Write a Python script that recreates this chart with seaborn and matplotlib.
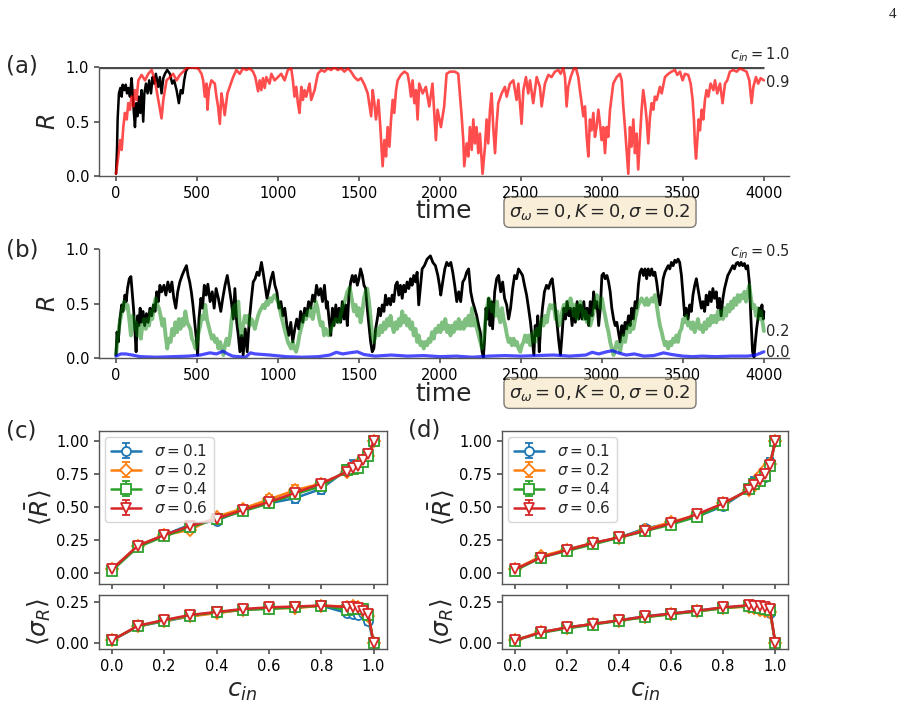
import matplotlib
matplotlib.use("Agg")
import matplotlib.pyplot as plt
import seaborn as sns
from matplotlib.ticker import FormatStrFormatter

# ---------------- data ----------------
# panel (a): c_in = 1.0 (black) and c_in = 0.9 (red); (time, R) samples
# (c_in = 1.0 stays locked at R = 1 from t ~ 456 to 4000; drawn as the level line below)
a_black = [(0,.02),(6,.24),(10,.52),(18,.76),(27,.81),(35,.73),(41,.84),(51,.79),(60,.84),(68,.76),
           (76,.81),(86,.73),(96,.90),(103,.76),(109,.61),(117,.45),(125,.67),(133,.55),(142,.73),(150,.58),
           (158,.79),(168,.50),(175,.76),(185,.85),(195,.76),(205,.88),(216,.76),(226,.91),(236,.85),(246,.94),
           (261,.82),(271,.91),(281,.76),(292,.90),(302,.94),(316,.975),(333,.94),(347,.85),(359,.88),(374,.79),
           (388,.67),(400,.79),(411,.76),(421,.88),(431,.96),(441,.99),(456,1.0)]
a_locked_level = 1.0
a_locked_end = 4000

a_red = [(0,.02),(14,.18),(25,.33),(35,.24),(45,.45),(55,.58),(66,.52),(76,.67),(86,.61),(96,.73),
         (107,.64),(117,.79),(127,.70),(138,.88),(158,.93),(179,.88),(199,.94),(220,.975),(240,.88),(261,.70),
         (281,.53),(292,.70),(312,.88),(333,.91),(353,.94),(374,.88),(394,.93),(415,.96),(435,.99),(466,1.0),
         (507,.99),(528,.94),(538,.88),(548,.73),(558,.85),(565,.61),(573,.79),(589,.88),(610,.85),(620,.73),
         (630,.64),(641,.48),(651,.76),(661,.67),(671,.56),(688,.76),(702,.82),(723,.91),(743,.975),(764,.94),
         (784,.99),(805,.975),(825,.99),(846,.96),(860,.91),(877,.78),(887,.88),(897,.79),(907,.90),(918,.81),
         (928,.91),(948,.85),(959,.94),(979,.88),(1000,.91),(1020,.94),(1041,.88),(1061,.975),(1082,.99),(1092,.88),
         (1102,.73),(1113,.82),(1123,.67),(1133,.58),(1144,.82),(1154,.70),(1164,.79),(1174,.73),(1195,.85),(1205,.70),
         (1226,.79),(1246,.94),(1267,.975),(1287,.96),(1308,.99),(1328,.975),(1349,1.0),(1369,.975),(1390,.99),(1410,.96),
         (1431,.99),(1451,.96),(1472,.91),(1493,.88),(1513,.90),(1534,.84),(1554,.76),(1575,.55),(1585,.79),(1595,.67),
         (1605,.52),(1620,.70),(1632,.45),(1640,.24),(1646,.09),(1657,.33),(1667,.18),(1677,.45),(1688,.27),(1698,.52),
         (1708,.70),(1718,.58),(1729,.79),(1739,.88),(1759,.93),(1780,.96),(1800,.94),(1811,.85),(1821,.73),(1831,.88),
         (1842,.67),(1852,.79),(1862,.52),(1872,.85),(1893,.76),(1913,.82),(1934,.64),(1954,.85),(1965,.58),(1975,.33),
         (1985,.61),(2006,.45),(2026,.64),(2041,.94),(2062,.96),(2093,.96),(2113,.94),(2123,.76),(2134,.55),(2144,.33),
         (2150,.09),(2165,.30),(2175,.18),(2185,.45),(2196,.24),(2206,.52),(2216,.30),(2226,.45),(2237,.21),(2247,.39),
         (2257,.15),(2263,.02),(2278,.27),(2288,.52),(2298,.30),(2309,.61),(2319,.76),(2329,.45),(2340,.21),(2350,.48),
         (2360,.67),(2381,.76),(2401,.82),(2412,.73),(2432,.85),(2453,.88),(2463,.79),(2473,.70),(2484,.85),(2504,.48),
         (2515,.79),(2531,.91),(2545,.76),(2556,.88),(2576,.67),(2597,.91),(2617,.82),(2628,.64),(2648,.85),(2669,.93),
         (2689,.91),(2710,.96),(2731,.975),(2745,.94),(2761,1.0),(2772,.91),(2782,.64),(2792,.82),(2807,.91),(2823,.975),
         (2838,1.0),(2854,.91),(2864,.79),(2875,.67),(2885,.55),(2895,.64),(2906,.36),(2916,.18),(2926,.52),(2936,.42),
         (2947,.58),(2957,.36),(2967,.45),(2978,.61),(2988,.48),(2998,.33),(3008,.45),(3019,.21),(3029,.45),(3039,.36),
         (3050,.61),(3060,.73),(3070,.85),(3091,.91),(3111,.94),(3122,.88),(3132,.64),(3142,.45),(3152,.24),(3163,.02),
         (3173,.45),(3183,.27),(3194,.52),(3204,.21),(3214,.39),(3224,.06),(3235,.36),(3245,.61),(3255,.79),(3266,.67),
         (3276,.52),(3286,.30),(3297,.55),(3307,.67),(3317,.61),(3327,.73),(3338,.70),(3358,.82),(3369,.76),(3389,.91),
         (3410,.94),(3430,.96),(3451,.975),(3465,.93),(3482,.96),(3498,.88),(3513,.94),(3533,.93),(3548,.85),(3560,.70),
         (3568,.52),(3574,.30),(3581,.16),(3589,.33),(3597,.52),(3605,.42),(3616,.61),(3626,.52),(3636,.70),(3646,.79),
         (3657,.73),(3671,.85),(3688,.79),(3698,.88),(3712,.76),(3729,.85),(3745,.67),(3760,.85),(3774,.88),(3790,.96),
         (3811,.975),(3832,.96),(3852,.99),(3873,.975),(3893,.96),(3910,.88),(3924,.67),(3935,.82),(3951,.91),(3965,.85),
         (3980,.90),(4000,.88)]

# panel (b): c_in = 0.5 (black), 0.2 (green), 0.0 (blue)
b_black = [(0,.03),(6,.24),(14,.15),(24,.36),(35,.49),(43,.43),(55,.58),(63,.52),(71,.64),(82,.73),
           (92,.75),(100,.61),(108,.46),(116,.27),(124,.06),(133,.39),(141,.30),(149,.46),(157,.33),(167,.43),
           (177,.30),(188,.41),(198,.33),(210,.46),(220,.39),(231,.49),(241,.43),(251,.61),(261,.52),(271,.67),
           (282,.61),(296,.67),(308,.58),(320,.70),(333,.61),(345,.70),(357,.55),(369,.46),(381,.61),(394,.70),
           (408,.76),(422,.81),(435,.85),(445,.76),(455,.70),(465,.61),(475,.49),(486,.33),(496,.18),(504,.03),
           (512,.36),(524,.55),(534,.46),(545,.67),(557,.58),(567,.68),(581,.52),(594,.61),(606,.46),(618,.64),
           (632,.55),(647,.43),(659,.55),(673,.67),(687,.76),(700,.64),(712,.52),(724,.36),(734,.64),(745,.33),
           (755,.21),(765,.06),(775,.21),(785,.03),(798,.27),(810,.06),(822,.33),(834,.52),(847,.70),(859,.73),
           (871,.79),(883,.76),(898,.88),(908,.79),(920,.67),(932,.55),(945,.64),(957,.73),(969,.79),(981,.67),
           (993,.61),(1006,.46),(1018,.52),(1030,.39),(1042,.46),(1055,.30),(1067,.21),(1079,.33),(1091,.15),(1104,.27),
           (1116,.36),(1128,.27),(1140,.43),(1153,.33),(1165,.46),(1177,.39),(1189,.52),(1202,.46),(1214,.58),(1226,.52),
           (1238,.67),(1251,.58),(1263,.64),(1275,.52),(1287,.67),(1299,.46),
           (1305,.52),(1315,.36),(1326,.21),(1336,.46),(1346,.30),(1357,.49),(1367,.33),(1377,.46),(1387,.33),(1397,.52),
           (1408,.36),(1418,.49),(1428,.30),(1438,.58),(1449,.70),(1459,.76),(1469,.70),(1479,.76),(1490,.67),(1500,.73),
           (1510,.82),(1521,.76),(1531,.67),(1541,.64),(1551,.46),(1562,.30),(1572,.15),(1582,.06),(1592,.09),(1603,.27),
           (1613,.36),(1623,.46),(1633,.39),(1644,.49),(1654,.43),(1664,.58),(1674,.49),(1685,.55),(1695,.49),(1705,.58),
           (1715,.52),(1726,.67),(1736,.70),(1746,.58),(1756,.67),(1767,.55),(1777,.67),(1787,.61),(1797,.70),(1808,.64),
           (1818,.73),(1828,.67),(1838,.76),(1849,.70),(1859,.79),(1869,.49),(1890,.82),(1904,.85),(1921,.91),(1941,.94),
           (1956,.88),(1972,.85),(1987,.76),(1997,.67),(2005,.58),(2017,.70),(2030,.82),(2042,.88),(2054,.85),(2067,.88),
           (2079,.79),(2091,.67),(2104,.52),(2116,.61),(2128,.52),(2141,.70),(2153,.73),(2165,.79),(2177,.82),(2190,.61),
           (2202,.52),(2214,.46),(2227,.39),(2239,.30),(2249,.24),(2260,.06),(2268,.01),(2276,.18),(2284,.46),(2293,.36),
           (2301,.55),(2309,.30),(2317,.52),(2325,.27),(2338,.61),(2350,.73),(2362,.76),(2375,.61),(2387,.70),(2399,.55),
           (2412,.49),(2424,.36),(2436,.46),(2449,.64),(2461,.76),(2473,.73),(2485,.82),(2498,.79),(2510,.76),(2522,.67),
           (2535,.58),(2547,.46),(2559,.33),(2572,.15),(2580,.03),(2588,.30),(2596,.21),(2604,.39),(2613,.06),(2621,.27),
           (2633,.46),(2645,.61),(2658,.67),(2670,.64),(2682,.70),
           (2693,.73),(2703,.61),(2714,.43),(2724,.30),(2734,.15),(2744,.03),(2755,.24),(2765,.46),(2775,.36),(2785,.52),
           (2796,.39),(2806,.46),(2816,.30),(2826,.46),(2836,.33),(2847,.52),(2857,.36),(2867,.49),(2877,.36),(2888,.52),
           (2898,.36),(2908,.46),(2918,.30),(2928,.52),(2939,.39),(2949,.61),(2959,.46),(2969,.52),(2980,.30),(2990,.46),
           (3000,.76),(3010,.78),(3020,.73),(3031,.76),(3041,.70),(3051,.61),(3061,.46),(3072,.36),(3082,.30),(3092,.33),
           (3102,.24),(3112,.15),(3123,.30),(3133,.21),(3143,.33),(3153,.27),(3164,.39),(3174,.30),(3184,.46),(3194,.36),
           (3205,.52),(3215,.46),(3225,.67),(3235,.79),(3245,.82),(3256,.76),(3266,.82),(3276,.73),(3286,.82),(3297,.76),
           (3307,.82),(3317,.76),(3327,.79),(3338,.70),(3348,.58),(3358,.49),(3369,.61),(3378,.73),(3389,.79),(3399,.82),
           (3409,.85),(3419,.82),(3429,.88),(3440,.85),(3450,.90),(3460,.88),(3470,.91),(3480,.88),(3491,.76),(3501,.58),
           (3511,.39),(3521,.46),(3532,.36),(3542,.49),(3552,.43),(3562,.58),(3573,.67),(3583,.73),(3593,.64),(3603,.55),
           (3614,.46),(3624,.52),(3634,.43),(3644,.58),(3654,.49),(3665,.61),(3675,.52),(3685,.64),(3695,.55),(3706,.61),
           (3716,.46),(3726,.55),(3736,.39),(3747,.55),(3757,.64),(3767,.70),(3777,.76),(3788,.79),(3798,.82),(3808,.85),
           (3818,.82),(3829,.87),(3839,.88),(3849,.85),(3859,.88),(3869,.85),(3880,.87),(3890,.82),(3900,.85),(3910,.70),
           (3920,.36),(3930,.06),(3939,.01),(3947,.15),(3955,.27),(3963,.36),(3971,.46),(3980,.39),(3988,.49),(3996,.36),
           (4000,.43)]

b_green = [(0,.03),(10,.18),(20,.30),(31,.39),(41,.46),(51,.52),(61,.46),(71,.49),(82,.36),(92,.21),
           (102,.39),(112,.27),(122,.33),(133,.21),(143,.30),(153,.18),(163,.30),(173,.36),(184,.27),(194,.36),
           (204,.30),(214,.43),(224,.36),(235,.49),(245,.55),(255,.49),(265,.46),(275,.39),(286,.30),(296,.36),
           (306,.21),(316,.09),(326,.18),(337,.15),(347,.27),(357,.21),(367,.33),(377,.24),(388,.36),(398,.27),
           (408,.36),(418,.30),(428,.43),(439,.33),(449,.30),(459,.27),(469,.18),(479,.15),(490,.09),(500,.15),
           (510,.24),(520,.30),(530,.39),(541,.36),(551,.49),(561,.36),(571,.30),(581,.24),(592,.18),(602,.21),
           (612,.15),(622,.18),(632,.09),(643,.15),(653,.09),(663,.03),(673,.12),(683,.18),(694,.12),(704,.21),
           (714,.36),(724,.46),(734,.49),(745,.39),(755,.52),(765,.30),(775,.21),(785,.30),(796,.39),(806,.33),
           (816,.39),(826,.30),(836,.36),(847,.33),(857,.27),(867,.33),(877,.39),(887,.43),(898,.46),(908,.49),
           (918,.46),(928,.52),(938,.49),(949,.55),(959,.52),(969,.56),(979,.58),(989,.55),(1000,.52),(1010,.46),
           (1020,.39),(1030,.33),(1040,.27),(1051,.21),(1061,.15),(1071,.12),(1081,.09),(1091,.15),(1102,.09),(1112,.06),
           (1122,.12),(1132,.21),(1142,.27),(1153,.33),(1163,.39),(1173,.36),(1183,.43),(1193,.39),(1204,.46),(1214,.36),
           (1224,.43),(1234,.52),(1244,.46),(1255,.36),(1265,.30),(1275,.33),(1285,.21),(1295,.27),(1312,.21),
           (1336,.30),(1357,.36),(1377,.33),(1397,.46),(1418,.55),(1428,.61),(1443,.65),(1455,.55),(1469,.43),(1479,.49),
           (1490,.39),(1500,.46),(1510,.33),(1521,.43),(1531,.55),(1541,.61),(1551,.64),(1562,.52),(1572,.36),(1582,.21),
           (1592,.15),(1603,.21),(1613,.27),(1623,.21),(1633,.30),(1644,.24),(1654,.33),(1664,.27),(1674,.36),(1685,.30),
           (1695,.39),(1705,.30),(1715,.24),(1726,.33),(1736,.27),(1746,.36),(1756,.30),(1767,.43),(1777,.33),(1787,.39),
           (1797,.30),(1808,.36),(1818,.27),(1828,.33),(1838,.21),(1849,.27),(1859,.15),(1869,.21),(1880,.12),(1890,.15),
           (1900,.09),(1910,.15),(1921,.12),(1931,.18),(1941,.15),(1951,.24),(1962,.18),(1972,.27),(1982,.24),(1992,.30),
           (2003,.24),(2013,.33),(2023,.27),(2033,.36),(2044,.24),(2054,.30),(2065,.21),(2075,.30),(2085,.24),(2095,.33),
           (2106,.27),(2116,.36),(2126,.27),(2136,.33),(2147,.27),(2157,.36),(2167,.30),(2177,.39),(2188,.30),(2198,.46),
           (2208,.30),(2218,.36),(2229,.27),(2239,.21),(2249,.15),(2260,.09),(2270,.18),(2280,.33),(2290,.46),(2301,.55),
           (2311,.52),(2321,.43),(2331,.49),(2342,.39),(2352,.52),(2362,.39),(2373,.33),(2383,.46),(2393,.36),(2403,.30),
           (2414,.21),(2424,.15),(2434,.18),(2444,.12),(2455,.18),(2465,.12),(2475,.15),(2485,.09),(2496,.06),(2506,.12),
           (2516,.15),(2526,.21),(2537,.15),(2547,.21),(2557,.12),(2567,.18),(2578,.24),(2588,.15),(2598,.27),(2608,.21),
           (2619,.30),(2629,.36),(2639,.30),(2649,.39),(2660,.33),(2670,.43),(2680,.49),
           (2693,.46),(2703,.49),(2714,.36),(2724,.43),(2734,.30),(2744,.33),(2755,.43),(2765,.49),(2775,.43),(2785,.52),
           (2796,.46),(2806,.55),(2816,.49),(2826,.39),(2836,.49),(2847,.36),(2857,.46),(2867,.52),(2877,.46),(2888,.36),
           (2898,.43),(2908,.33),(2918,.39),(2928,.30),(2939,.36),(2949,.43),(2959,.52),(2969,.58),(2980,.52),(2990,.46),
           (3000,.55),(3010,.46),(3020,.39),(3031,.30),(3041,.24),(3051,.15),(3061,.09),(3072,.03),(3082,.09),(3092,.15),
           (3102,.12),(3112,.06),(3123,.15),(3133,.21),(3143,.15),(3153,.24),(3164,.30),(3174,.24),(3184,.33),(3194,.27),
           (3205,.36),(3215,.43),(3225,.49),(3235,.52),(3245,.55),(3256,.52),(3266,.49),(3276,.55),(3286,.49),(3297,.52),
           (3307,.55),(3317,.52),(3327,.58),(3338,.49),(3348,.39),(3358,.30),(3369,.24),(3378,.18),(3389,.12),(3399,.15),
           (3409,.09),(3419,.15),(3429,.12),(3440,.18),(3450,.15),(3460,.21),(3470,.15),(3480,.24),(3491,.27),(3501,.36),
           (3511,.33),(3521,.39),(3532,.30),(3542,.33),(3552,.27),(3562,.33),(3573,.24),(3583,.30),(3593,.36),(3603,.27),
           (3614,.30),(3624,.24),(3634,.33),(3644,.27),(3654,.36),(3665,.30),(3675,.39),(3685,.33),(3695,.39),(3706,.33),
           (3716,.43),(3726,.36),(3736,.43),(3747,.36),(3757,.46),(3767,.39),(3777,.49),(3788,.43),(3798,.52),(3808,.46),
           (3818,.55),(3829,.49),(3839,.58),(3849,.52),(3859,.58),(3869,.55),(3880,.61),(3890,.52),(3900,.61),(3910,.67),
           (3920,.55),(3930,.46),(3940,.49),(3951,.39),(3961,.46),(3971,.36),(3981,.43),(3992,.33),(4000,.25)]

b_blue = [(0,.02),(30,.04),(60,.04),(100,.03),(150,.015),(250,.01),(350,.015),(450,.02),(520,.03),(580,.05),
          (620,.04),(660,.065),(690,.04),(720,.02),(800,.01),(830,.05),(860,.04),(950,.03),(1050,.015),(1150,.01),
          (1250,.015),(1320,.03),(1360,.055),(1400,.04),(1440,.05),(1490,.06),(1530,.035),(1600,.02),(1700,.03),(1800,.02),
          (1900,.025),(2000,.015),(2100,.02),(2200,.01),(2300,.02),(2400,.025),(2500,.02),(2600,.025),(2700,.03),(2800,.02),
          (2900,.03),(2940,.055),(2980,.04),(3030,.06),(3065,.07),(3100,.05),(3150,.03),(3200,.04),(3260,.02),(3320,.025),
          (3380,.05),(3430,.035),(3500,.02),(3560,.015),(3620,.02),(3700,.015),(3800,.02),(3900,.02),(3950,.03),(4000,.06)]

# panels (c),(d)
c_in = [0.0, 0.1, 0.2, 0.3, 0.4, 0.5, 0.6, 0.7, 0.8, 0.9, 0.92, 0.94, 0.96, 0.98, 1.0]
sigmas = ["0.1", "0.2", "0.4", "0.6"]

c_R = {
    "0.1": [0.03, 0.21, 0.29, 0.37, 0.40, 0.48, 0.53, 0.57, 0.64, 0.79, 0.82, 0.83, 0.86, 0.90, 1.0],
    "0.2": [0.03, 0.21, 0.29, 0.33, 0.43, 0.49, 0.56, 0.63, 0.68, 0.77, 0.80, 0.83, 0.86, 0.89, 1.0],
    "0.4": [0.02, 0.20, 0.28, 0.35, 0.41, 0.47, 0.53, 0.60, 0.66, 0.78, 0.79, 0.80, 0.84, 0.89, 1.0],
    "0.6": [0.03, 0.21, 0.29, 0.36, 0.415, 0.48, 0.54, 0.61, 0.68, 0.77, 0.80, 0.815, 0.86, 0.90, 1.0],
}
c_R_err = {
    "0.1": [0.01, 0.02, 0.02, 0.03, 0.02, 0.02, 0.02, 0.04, 0.04, 0.03, 0.04, 0.03, 0.03, 0.04, 0.0],
    "0.2": [0.01, 0.02, 0.02, 0.02, 0.02, 0.02, 0.03, 0.04, 0.02, 0.02, 0.02, 0.02, 0.02, 0.02, 0.0],
    "0.4": [0.01, 0.02, 0.02, 0.02, 0.02, 0.02, 0.02, 0.02, 0.03, 0.03, 0.03, 0.03, 0.03, 0.02, 0.0],
    "0.6": [0.01, 0.01, 0.01, 0.02, 0.02, 0.02, 0.02, 0.02, 0.02, 0.02, 0.02, 0.02, 0.02, 0.02, 0.0],
}
c_S = {
    "0.1": [0.014, 0.10, 0.13, 0.16, 0.185, 0.20, 0.21, 0.215, 0.225, 0.18, 0.175, 0.17, 0.18, 0.13, 0.0],
    "0.2": [0.015, 0.10, 0.135, 0.16, 0.18, 0.20, 0.21, 0.21, 0.225, 0.22, 0.225, 0.215, 0.20, 0.16, 0.0],
    "0.4": [0.014, 0.10, 0.135, 0.165, 0.185, 0.20, 0.205, 0.215, 0.225, 0.20, 0.205, 0.205, 0.205, 0.17, 0.0],
    "0.6": [0.014, 0.104, 0.138, 0.169, 0.187, 0.205, 0.215, 0.22, 0.226, 0.217, 0.215, 0.21, 0.193, 0.173, 0.0],
}
c_S_err = {
    "0.1": [0.005, 0.01, 0.01, 0.01, 0.01, 0.01, 0.01, 0.01, 0.01, 0.02, 0.02, 0.02, 0.02, 0.02, 0.0],
    "0.2": [0.005, 0.01, 0.01, 0.01, 0.01, 0.01, 0.01, 0.01, 0.01, 0.01, 0.01, 0.01, 0.01, 0.02, 0.0],
    "0.4": [0.005, 0.01, 0.01, 0.01, 0.01, 0.01, 0.01, 0.01, 0.01, 0.01, 0.01, 0.01, 0.01, 0.01, 0.0],
    "0.6": [0.005, 0.01, 0.01, 0.01, 0.01, 0.01, 0.01, 0.01, 0.01, 0.01, 0.01, 0.01, 0.01, 0.01, 0.0],
}
d_R = {
    "0.1": [0.03, 0.12, 0.18, 0.23, 0.27, 0.34, 0.38, 0.43, 0.51, 0.64, 0.70, 0.71, 0.73, 0.84, 1.0],
    "0.2": [0.03, 0.13, 0.18, 0.23, 0.27, 0.33, 0.39, 0.44, 0.53, 0.63, 0.66, 0.74, 0.78, 0.83, 1.0],
    "0.4": [0.02, 0.12, 0.17, 0.22, 0.27, 0.32, 0.37, 0.43, 0.52, 0.64, 0.68, 0.70, 0.74, 0.81, 1.0],
    "0.6": [0.03, 0.12, 0.177, 0.23, 0.273, 0.324, 0.38, 0.448, 0.53, 0.633, 0.67, 0.71, 0.75, 0.82, 1.0],
}
d_R_err = {
    "0.1": [0.01, 0.01, 0.01, 0.01, 0.01, 0.02, 0.01, 0.02, 0.02, 0.02, 0.03, 0.03, 0.03, 0.03, 0.0],
    "0.2": [0.01, 0.02, 0.01, 0.01, 0.01, 0.01, 0.02, 0.01, 0.01, 0.02, 0.02, 0.02, 0.02, 0.02, 0.0],
    "0.4": [0.01, 0.01, 0.01, 0.01, 0.01, 0.01, 0.01, 0.01, 0.02, 0.02, 0.02, 0.02, 0.02, 0.02, 0.0],
    "0.6": [0.01, 0.01, 0.01, 0.01, 0.01, 0.01, 0.01, 0.01, 0.01, 0.02, 0.02, 0.02, 0.02, 0.02, 0.0],
}
d_S = {
    "0.1": [0.014, 0.063, 0.092, 0.114, 0.136, 0.16, 0.177, 0.195, 0.213, 0.225, 0.215, 0.22, 0.21, 0.18, 0.0],
    "0.2": [0.015, 0.065, 0.09, 0.115, 0.135, 0.155, 0.175, 0.19, 0.21, 0.22, 0.21, 0.20, 0.19, 0.185, 0.0],
    "0.4": [0.012, 0.06, 0.087, 0.11, 0.133, 0.155, 0.173, 0.19, 0.21, 0.225, 0.215, 0.21, 0.205, 0.20, 0.0],
    "0.6": [0.014, 0.063, 0.093, 0.114, 0.136, 0.16, 0.177, 0.195, 0.215, 0.228, 0.224, 0.222, 0.22, 0.205, 0.0],
}
d_S_err = {k: [0.005] + [0.01] * 13 + [0.0] for k in sigmas}

# ---------------- style ----------------
sns.set_theme(style="ticks")
plt.rcParams["font.family"] = ["DejaVu Sans"]
plt.rcParams["mathtext.fontset"] = "dejavusans"
EDGE = "#555555"
plt.rcParams.update({
    "axes.edgecolor": EDGE, "axes.linewidth": 1.0,
    "xtick.color": EDGE, "ytick.color": EDGE,
    "xtick.labelcolor": "black", "ytick.labelcolor": "black",
    "xtick.labelsize": 10.5, "ytick.labelsize": 10.5,
    "xtick.major.size": 3.5, "ytick.major.size": 3.5,
})

W, H = 912, 724
fig = plt.figure(figsize=(W / 100, H / 100), dpi=100)


def box(l, t, r, b):
    return [l / W, 1 - b / H, (r - l) / W, (b - t) / H]


ax_a = fig.add_axes(box(99, 67.3, 789, 176))
ax_b = fig.add_axes(box(99, 249.3, 789, 358.3))
ax_c1 = fig.add_axes(box(98.7, 430.7, 386.7, 584))
ax_c2 = fig.add_axes(box(98.7, 595, 386.7, 649))
ax_d1 = fig.add_axes(box(501.7, 430.7, 788.3, 584))
ax_d2 = fig.add_axes(box(501.7, 595, 788.3, 649))


def series(ax, pairs, **kw):
    t = [p[0] for p in pairs]
    r = [p[1] for p in pairs]
    sns.lineplot(x=t, y=r, ax=ax, estimator=None, sort=False, **kw)


# ---- (a)
ax_a.hlines(a_locked_level, -105, a_locked_end, color="#4a4a4a", lw=2.4)
series(ax_a, a_black, color="black", lw=1.8)
series(ax_a, a_red, color="red", alpha=0.7, lw=1.9)
# ---- (b)
series(ax_b, b_black, color="black", lw=2.0)
series(ax_b, b_green, color="green", alpha=0.5, lw=2.8)
series(ax_b, b_blue, color="blue", alpha=0.7, lw=2.3)

for ax in (ax_a, ax_b):
    ax.set_xlim(-105, 4155)
    ax.set_ylim(0, 1.0)
    ax.set_xticks(range(0, 4001, 500))
    ax.set_yticks([0, 0.5, 1.0])
    ax.yaxis.set_major_formatter(FormatStrFormatter("%.1f"))
    sns.despine(ax=ax)
    ax.set_ylabel("$R$", fontsize=17)
    ax.yaxis.set_label_coords(-0.057, 0.5)
    ax.set_xlabel("time", fontsize=18)
    ax.xaxis.set_label_coords(0.5, -0.215)

ax_a.text(3790, 1.03, "$c_{in} = 1.0$", fontsize=10.5, ha="left", va="bottom", clip_on=False)
ax_a.text(4012, 0.86, "0.9", fontsize=10.5, ha="left", va="center", clip_on=False)
ax_b.text(3790, 0.98, "$c_{in} = 0.5$", fontsize=10.5, ha="left", va="center", clip_on=False)
ax_b.text(4012, 0.25, "0.2", fontsize=10.5, ha="left", va="center", clip_on=False)
ax_b.text(4012, 0.05, "0.0", fontsize=10.5, ha="left", va="center", clip_on=False)

bbox = dict(boxstyle="round", facecolor="wheat", edgecolor="black", alpha=0.5)
params = r"$\sigma_\omega = 0, K = 0, \sigma = 0.2$"
fig.text(600 / W, 1 - 212 / H, params, fontsize=13, ha="center", va="center", bbox=bbox)
fig.text(600 / W, 1 - 393 / H, params, fontsize=13, ha="center", va="center", bbox=bbox)

# ---- (c), (d)
palette = sns.color_palette("tab10")[:4]
markers = ["o", "D", "s", "v"]


def errplot(ax, ys, es):
    for s, col, m in zip(sigmas, palette, markers):
        ax.errorbar(c_in, ys[s], yerr=es[s], fmt="-" + m, color=col, mfc="white",
                    ms=6.5 if m != "D" else 6, mew=1.3, lw=1.8, capsize=3, capthick=1.2,
                    elinewidth=1.3, label=r"$\sigma = %s$" % s)


for top, bot, dR, dRe, dS, dSe in [(ax_c1, ax_c2, c_R, c_R_err, c_S, c_S_err),
                                     (ax_d1, ax_d2, d_R, d_R_err, d_S, d_S_err)]:
    errplot(top, dR, dRe)
    errplot(bot, dS, dSe)
    for ax in (top, bot):
        ax.set_xlim(-0.05, 1.05)
        ax.set_xticks([0, 0.2, 0.4, 0.6, 0.8, 1.0])
        ax.xaxis.set_major_formatter(FormatStrFormatter("%.1f"))
        ax.yaxis.set_major_formatter(FormatStrFormatter("%.2f"))
        for sp in ax.spines.values():
            sp.set_visible(True)
            sp.set_color(EDGE)
    top.set_ylim(-0.08, 1.08)
    top.set_yticks([0, 0.25, 0.5, 0.75, 1.0])
    top.tick_params(labelbottom=False)
    bot.set_ylim(-0.038, 0.29)
    bot.set_yticks([0, 0.25])
    top.set_ylabel(r"$\langle\bar{R}\rangle$", fontsize=18)
    bot.set_ylabel(r"$\langle\sigma_R\rangle$", fontsize=18)
    top.yaxis.set_label_coords(-0.16, 0.5)
    bot.yaxis.set_label_coords(-0.16, 0.5)
    bot.set_xlabel("$c_{in}$", fontsize=18)
    leg = top.legend(loc="upper left", fontsize=11, labelspacing=0.2, handlelength=2,
                     borderaxespad=0.4, frameon=True)
    leg.get_frame().set_edgecolor("#cccccc")

# panel letters
fig.text(22 / W, 1 - 66 / H, "(a)", fontsize=16.5, ha="center", va="center")
fig.text(22 / W, 1 - 250 / H, "(b)", fontsize=16.5, ha="center", va="center")
fig.text(21 / W, 1 - 431 / H, "(c)", fontsize=16.5, ha="center", va="center")
fig.text(424 / W, 1 - 430 / H, "(d)", fontsize=16.5, ha="center", va="center")
fig.text(893 / W, 1 - 15 / H, "4", fontsize=11, family="Liberation Serif", ha="center", va="center")

fig.savefig("out.png", dpi=100)
